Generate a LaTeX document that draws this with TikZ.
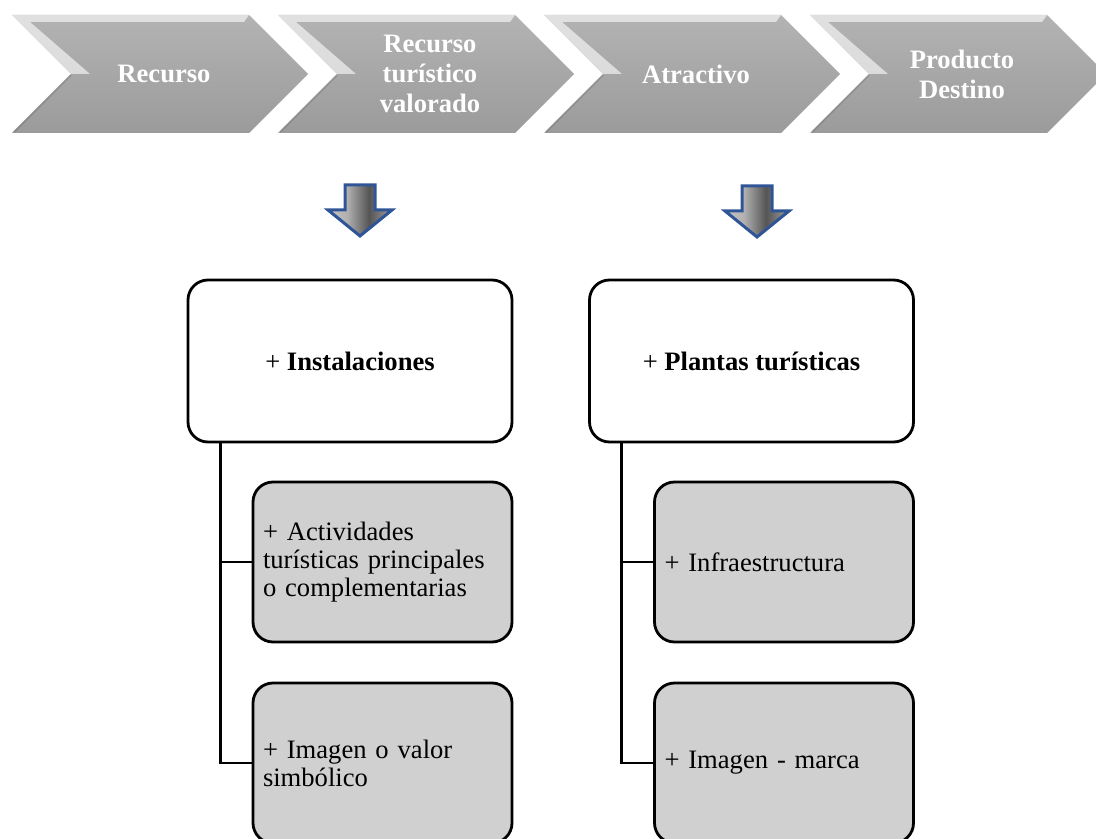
\documentclass[tikz,border=0pt]{standalone}
\usepackage{fontspec}
\setmainfont{Liberation Serif}
\usepackage{tikz}
\definecolor{chevtop}{HTML}{B3B3B3}
\definecolor{chevbot}{HTML}{9B9B9B}
\definecolor{subgray}{HTML}{D0D0D0}
\definecolor{arrowblue}{HTML}{2F5597}
\definecolor{arrowdark}{HTML}{555555}
\definecolor{arrowlight}{HTML}{C4C4C4}
\definecolor{arrowright}{HTML}{A0A0A0}
\pgfdeclarehorizontalshading{arrowshade}{100bp}{color(0bp)=(arrowlight); color(25bp)=(arrowlight); color(40bp)=(arrowlight!90!black); color(57bp)=(arrowdark); color(75bp)=(arrowright); color(100bp)=(arrowright)}

\begin{document}
\begin{tikzpicture}[x=0.5pt, y=-0.5pt,
  stagetext/.style={text=white, align=center, font=\bfseries\fontsize{13.3}{15}\selectfont},
  mainbox/.style={draw, line width=1.4pt, rounded corners=10pt, minimum width=162pt, minimum height=81pt, font=\fontsize{13.3}{15}\selectfont},
  subbox/.style={draw, line width=1.4pt, rounded corners=10pt, fill=subgray, text width=119.5pt, inner xsep=5pt, minimum height=80pt, align=left, font=\fontsize{13.3}{14}\selectfont},
  link/.style={line width=1.4pt},
  chevron/.pic={
    \shade[top color=chevtop, bottom color=chevbot] (0,0) -- (237,0) -- (296,59) -- (237,118) -- (0,118) -- (59,59) -- cycle;
    \fill[white, opacity=.6] (0,0) -- (237,0) -- (232,7) -- (18,7) -- (78,59) -- (59,59) -- cycle;
    \draw[black, opacity=.12, line width=1pt] (59,60) -- (2,117);
  },
  downarrow/.pic={
    \shade[shading=arrowshade] (-15,0) -- (15,0) -- (15,25) -- (32,25) -- (0,51) -- (-32,25) -- (-15,25) -- cycle;
    \draw[arrowblue, line width=1.5pt] (-15,0) -- (15,0) -- (15,25) -- (32,25) -- (0,51) -- (-32,25) -- (-15,25) -- cycle;
  }]
\path[use as bounding box, clip] (0,0) rectangle (1096,839);

% process chevrons
\pic at (12,15)  {chevron};
\pic at (278,15) {chevron};
\pic at (544,15) {chevron};
\pic at (810,15) {chevron};
\node[stagetext] (rec) at (164,74) {Recurso};
\node[stagetext] (rtv) at (430,74) {Recurso\\turístico\\valorado};
\node[stagetext] (atr) at (696,74) {Atractivo};
\node[stagetext] (pro) at (962,74) {Producto\\Destino};

\pic at (360,185) {downarrow};
\pic at (757,186) {downarrow};

% boxes
\node[mainbox] (inst) at (350,361)   {+ \textbf{Instalaciones}};
\node[mainbox] (plan) at (751.5,361) {+ \textbf{Plantas turísticas}};
\node[subbox] (act)   at (382.5,562) {+ Actividades\\turísticas principales\\o complementarias};
\node[subbox] (imgv)  at (382.5,763) {+ Imagen o valor\\simbólico};
\node[subbox] (infra) at (784,562)   {+ Infraestructura};
\node[subbox] (imgm)  at (784,763)   {+ Imagen - marca};

\draw[link] (inst.south west) ++(34,0) |- (act.west);
\draw[link] (inst.south west) ++(34,0) |- (imgv.west);
\draw[link] (plan.south west) ++(33,0) |- (infra.west);
\draw[link] (plan.south west) ++(33,0) |- (imgm.west);
\end{tikzpicture}
\end{document}
